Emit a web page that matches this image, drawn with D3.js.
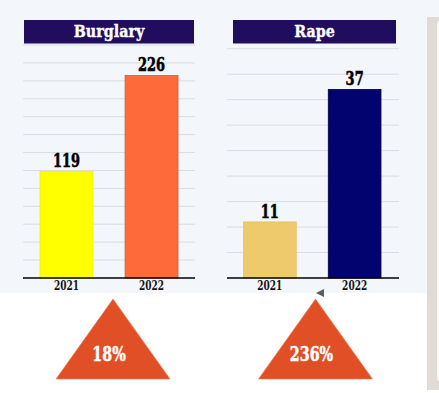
<!DOCTYPE html>
<html>
<head>
<meta charset="utf-8">
<script src="https://cdn.jsdelivr.net/npm/d3@7"></script>
<style>
  body { margin: 0; background: #ffffff; }
  text { font-family: "DejaVu Serif", serif; font-weight: bold; }
</style>
</head>
<body>
<div id="chart"></div>
<script>
var years = ['2021', '2022'];
var titles = ['Burglary', 'Rape'];
var burglary = [119, 226];
var rape = [11, 37];
var burglary_ticks = d3.range(0, 261, 20);
var rape_ticks = d3.range(0, 46, 5);
var changes = ['18%', '236%'];

var svg_w = 439, svg_h = 393;

var svg = d3.select('#chart').append('svg')
    .attr('width', svg_w)
    .attr('height', svg_h);

// squeeze text sideways, the source font is a condensed slab
function squeeze(sel, x, y, sx) {
  sel.attr('x', 0).attr('y', 0)
    .attr('transform', function(d, i) {
      var xx = typeof x === 'function' ? x(d, i) : x;
      var yy = typeof y === 'function' ? y(d, i) : y;
      return 'translate(' + xx + ',' + yy + ') scale(' + sx + ',1)';
    });
}

// page backgrounds
svg.append('rect')
  .attr('width', svg_w).attr('height', 293)
  .attr('fill', '#f3f6fa');

svg.append('rect')
  .attr('x', 427).attr('y', 17)
  .attr('width', 20).attr('height', 373)
  .attr('fill', '#e1dcd3');

svg.append('rect')
  .attr('x', 437).attr('y', 21)
  .attr('width', 10).attr('height', 360)
  .attr('rx', 3)
  .attr('fill', '#f7f6f3');

function draw_panel(opts) {
  var g = svg.append('g');

  var x = d3.scaleBand()
      .domain(years)
      .range([opts.x0, opts.x1])
      .paddingInner(0.378)
      .paddingOuter(0);

  var y = d3.scaleLinear()
      .domain([0, d3.max(opts.ticks)])
      .range([278, opts.top]);

  // title bar
  g.append('rect')
    .attr('x', opts.tx0)
    .attr('y', 20)
    .attr('width', opts.tx1 - opts.tx0)
    .attr('height', 23.5)
    .attr('fill', '#200d5e');

  g.append('text')
    .attr('text-anchor', 'middle')
    .attr('font-size', 17)
    .attr('fill', '#ffffff')
    .attr('stroke', '#ffffff')
    .attr('stroke-width', 0.4)
    .text(opts.title)
    .call(squeeze, (opts.tx0 + opts.tx1) / 2, 37, 0.84);

  // grid
  g.selectAll('.grid')
    .data(opts.ticks.slice(1))
    .enter().append('line')
    .attr('x1', opts.gx0)
    .attr('x2', opts.gx1)
    .attr('y1', function(d) { return y(d); })
    .attr('y2', function(d) { return y(d); })
    .attr('stroke', '#d9dce2')
    .attr('stroke-width', 1);

  // bars
  g.selectAll('.bar')
    .data(opts.values)
    .enter().append('rect')
    .attr('x', function(d, i) { return x(years[i]); })
    .attr('y', function(d) { return y(d); })
    .attr('width', x.bandwidth())
    .attr('height', function(d) { return y(0) - y(d); })
    .attr('fill', function(d, i) { return opts.colors[i]; })
    .attr('stroke', function(d, i) { return opts.strokes[i]; })
    .attr('stroke-width', 0.8);

  g.selectAll('.val')
    .data(opts.values)
    .enter().append('text')
    .attr('text-anchor', 'middle')
    .attr('font-size', 18)
    .attr('fill', '#000000')
    .attr('stroke', '#000000')
    .attr('stroke-width', 0.6)
    .text(function(d) { return d; })
    .call(squeeze,
      function(d, i) { return x(years[i]) + x.bandwidth() / 2; },
      function(d) { return y(d) - 4; }, 0.72);

  // axis
  var axis = d3.axisBottom(x).tickSize(0).tickPadding(3);
  var ga = g.append('g')
    .attr('transform', 'translate(0,278)')
    .call(axis);
  ga.select('.domain').remove();
  ga.selectAll('text')
    .attr('font-size', 12.5)
    .attr('fill', '#111111')
    .attr('transform', 'scale(0.72,1)')
    .style('font-family', '"DejaVu Serif", serif');

  g.append('line')
    .attr('x1', opts.gx0).attr('x2', opts.gx1)
    .attr('y1', 278).attr('y2', 278)
    .attr('stroke', '#000000')
    .attr('stroke-width', 1.3);
}

draw_panel({
  title: titles[0], values: burglary, ticks: burglary_ticks,
  x0: 40, x1: 178,
  gx0: 23, gx1: 195, tx0: 24, tx1: 194, top: 45,
  colors: ['#ffff00', '#fe6a3a'], strokes: ['#f5f000', '#d85a30']
});

draw_panel({
  title: titles[1], values: rape, ticks: rape_ticks,
  x0: 243.5, x1: 381,
  gx0: 227, gx1: 399, tx0: 233, tx1: 396, top: 48.7,
  colors: ['#efca6c', '#03036f'], strokes: ['#e6c060', '#000040']
});

// small pointer
svg.append('polygon')
  .attr('points', '316,293 324,289 324,297')
  .attr('fill', '#5a5f66');

// change triangles
var tri_cx = d3.scaleOrdinal().domain(changes).range([113, 315.5]);

var tri = svg.selectAll('.tri')
  .data(changes)
  .enter().append('g')
  .attr('transform', function(d) { return 'translate(' + tri_cx(d) + ',0)'; });

tri.append('polygon')
  .attr('points', '0,299 57,379 -57,379')
  .attr('fill', '#e04f26')
  .attr('stroke', '#f08050')
  .attr('stroke-width', 0.6);

tri.append('text')
  .attr('text-anchor', 'middle')
  .attr('font-size', 21)
  .attr('fill', '#ffffff')
  .attr('stroke', '#ffffff')
  .attr('stroke-width', 0.5)
  .text(function(d) { return d; })
  .call(squeeze, -4, 361, 0.68);
</script>
</body>
</html>
